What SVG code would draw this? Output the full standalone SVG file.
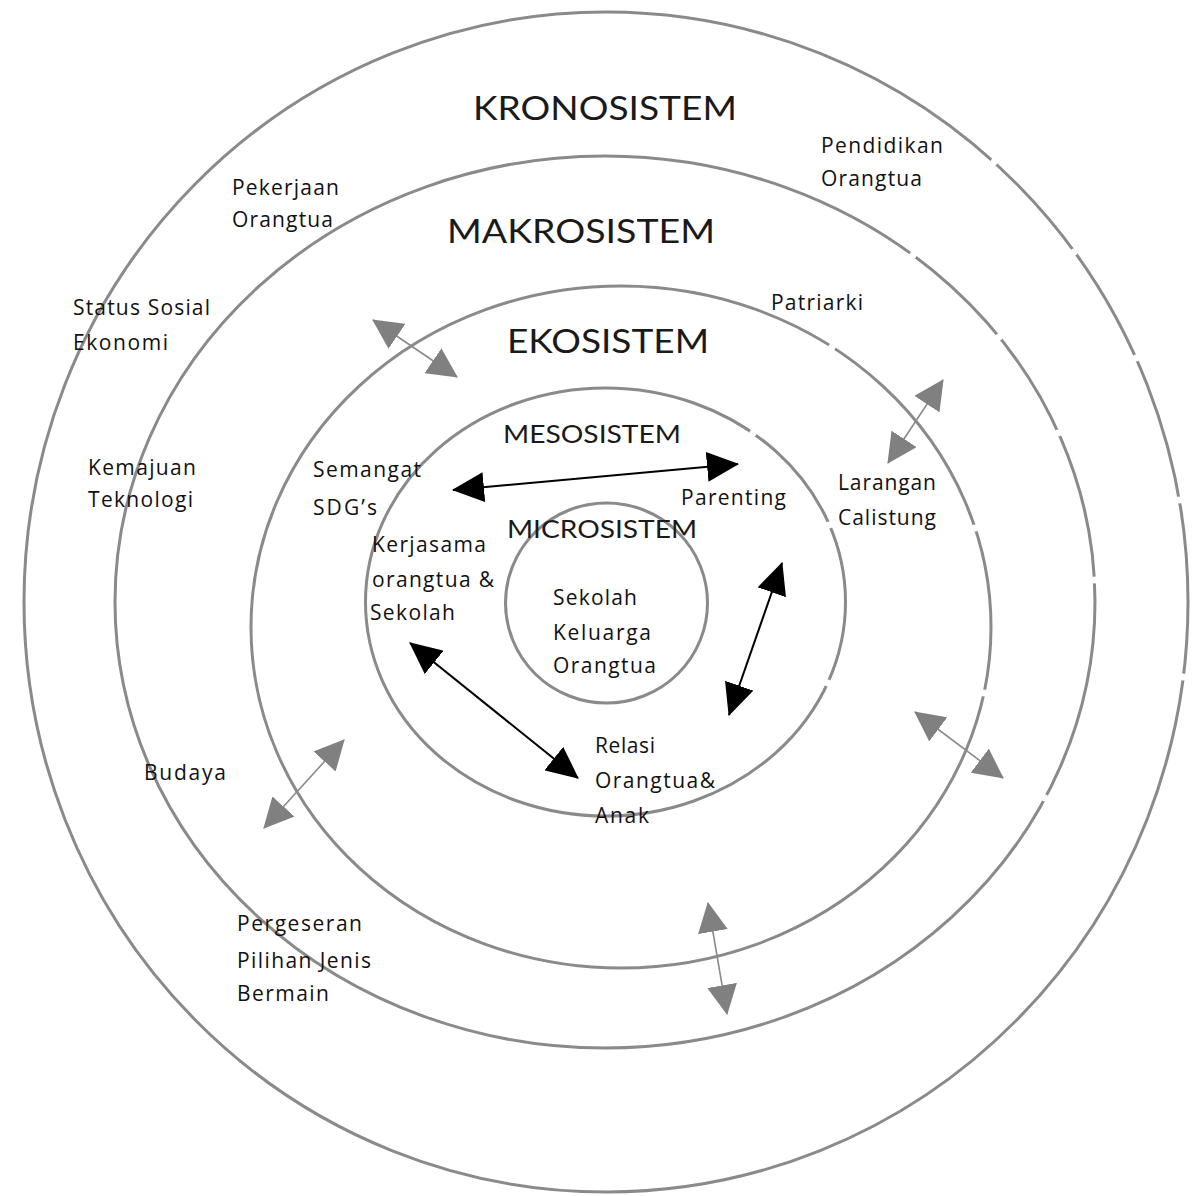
<svg xmlns="http://www.w3.org/2000/svg" width="1195" height="1196" viewBox="0 0 1195 1196">
<style>
.ring{fill:none;stroke:#8a8a8a;stroke-width:3}
.gap{fill:#fff;stroke:none}
.title{font-family:Lato,"Open Sans","Liberation Sans",sans-serif;fill:#1a1a1a}
.big{font-size:33px}
.mid{font-size:25px}
.lbl{font-family:"Open Sans",Lato,"Liberation Sans",sans-serif;font-size:21px;fill:#111}
.blk{stroke:#000;stroke-width:2;fill:none}
.gry{stroke:#8a8a8a;stroke-width:1.6;fill:none}
</style>
<defs>
<marker id="hb" markerUnits="userSpaceOnUse" markerWidth="32" markerHeight="30" refX="31" refY="15" orient="auto-start-reverse"><path d="M0,0 L32,15 L0,30 z" fill="#000"/></marker>
<marker id="hg" markerUnits="userSpaceOnUse" markerWidth="30" markerHeight="30" refX="29" refY="15" orient="auto-start-reverse"><path d="M0,0 L30,15 L0,30 z" fill="#808080"/></marker>
</defs>
<rect width="1195" height="1196" fill="#fff"/>

<g id="kronosistem">
<ellipse class="ring" cx="606" cy="602" rx="582" ry="590"/>
<text class="title big" x="473" y="120" textLength="264" lengthAdjust="spacingAndGlyphs">KRONOSISTEM</text>
</g>
<g id="makrosistem">
<ellipse class="ring" cx="605" cy="602" rx="490" ry="446"/>
<text class="title big" x="447" y="243" textLength="268" lengthAdjust="spacingAndGlyphs">MAKROSISTEM</text>
</g>
<g id="ekosistem">
<ellipse class="ring" cx="621" cy="627" rx="370" ry="341"/>
<text class="title big" x="507" y="353" textLength="202" lengthAdjust="spacingAndGlyphs">EKOSISTEM</text>
</g>
<g id="mesosistem">
<ellipse class="ring" cx="605.5" cy="602" rx="240" ry="214"/>
<text class="title mid" x="503" y="443" textLength="178" lengthAdjust="spacingAndGlyphs">MESOSISTEM</text>
</g>
<g id="microsistem">
<ellipse class="ring" cx="606.5" cy="603" rx="101" ry="100"/>
<text class="title mid" x="507" y="538" textLength="190" lengthAdjust="spacingAndGlyphs">MICROSISTEM</text>
<text class="lbl" x="553" y="605" textLength="84" lengthAdjust="spacing">Sekolah</text>
<text class="lbl" x="553" y="640" textLength="98" lengthAdjust="spacing">Keluarga</text>
<text class="lbl" x="553" y="673" textLength="103" lengthAdjust="spacing">Orangtua</text>
</g>

<g id="gaps">
<circle class="gap" cx="994" cy="162" r="3.5"/>
<circle class="gap" cx="1074" cy="252" r="3.5"/>
<circle class="gap" cx="1136" cy="358" r="3.5"/>
<circle class="gap" cx="1179" cy="500" r="3.5"/>
<circle class="gap" cx="1183" cy="677" r="3.5"/>
<circle class="gap" cx="913" cy="255" r="3.5"/>
<circle class="gap" cx="999" cy="337" r="3.5"/>
<circle class="gap" cx="1058" cy="433" r="3.5"/>
<circle class="gap" cx="1095" cy="580" r="3.5"/>
<circle class="gap" cx="1045" cy="798" r="3.5"/>
<circle class="gap" cx="832" cy="347" r="3.5"/>
<circle class="gap" cx="975" cy="528" r="3.5"/>
<circle class="gap" cx="984" cy="693" r="3.5"/>
<circle class="gap" cx="753" cy="433" r="3.5"/>
<circle class="gap" cx="829" cy="525" r="3.5"/>
<circle class="gap" cx="828" cy="683" r="3.5"/>
</g>

<g id="labels">
<g id="pekerjaan"><text class="lbl" x="232" y="195" textLength="107" lengthAdjust="spacing">Pekerjaan</text><text class="lbl" x="232" y="227" textLength="101" lengthAdjust="spacing">Orangtua</text></g>
<g id="status"><text class="lbl" x="73" y="315" textLength="137" lengthAdjust="spacing">Status Sosial</text><text class="lbl" x="73" y="350" textLength="95" lengthAdjust="spacing">Ekonomi</text></g>
<g id="pendidikan"><text class="lbl" x="821" y="153" textLength="122" lengthAdjust="spacing">Pendidikan</text><text class="lbl" x="821" y="186" textLength="101" lengthAdjust="spacing">Orangtua</text></g>
<g id="patriarki"><text class="lbl" x="771" y="310" textLength="92" lengthAdjust="spacing">Patriarki</text></g>
<g id="kemajuan"><text class="lbl" x="88" y="475" textLength="108" lengthAdjust="spacing">Kemajuan</text><text class="lbl" x="88" y="507" textLength="105" lengthAdjust="spacing">Teknologi</text></g>
<g id="semangat"><text class="lbl" x="313" y="477" textLength="108" lengthAdjust="spacing">Semangat</text><text class="lbl" x="313" y="515" textLength="64" lengthAdjust="spacing">SDG’s</text></g>
<g id="kerjasama"><text class="lbl" x="372" y="552" textLength="114" lengthAdjust="spacing">Kerjasama</text><text class="lbl" x="372" y="587" textLength="122" lengthAdjust="spacing">orangtua &amp;</text><text class="lbl" x="370" y="620" textLength="85" lengthAdjust="spacing">Sekolah</text></g>
<g id="parenting"><text class="lbl" x="681" y="505" textLength="105" lengthAdjust="spacing">Parenting</text></g>
<g id="larangan"><text class="lbl" x="838" y="490" textLength="98" lengthAdjust="spacing">Larangan</text><text class="lbl" x="838" y="525" textLength="98" lengthAdjust="spacing">Calistung</text></g>
<g id="budaya"><text class="lbl" x="144" y="780" textLength="82" lengthAdjust="spacing">Budaya</text></g>
<g id="relasi"><text class="lbl" x="595" y="753" textLength="60" lengthAdjust="spacing">Relasi</text><text class="lbl" x="595" y="788" textLength="120" lengthAdjust="spacing">Orangtua&amp;</text><text class="lbl" x="595" y="823" textLength="54" lengthAdjust="spacing">Anak</text></g>
<g id="pergeseran"><text class="lbl" x="237" y="931" textLength="125" lengthAdjust="spacing">Pergeseran</text><text class="lbl" x="237" y="968" textLength="134" lengthAdjust="spacing">Pilihan Jenis</text><text class="lbl" x="237" y="1001" textLength="92" lengthAdjust="spacing">Bermain</text></g>
</g>

<g id="connectors">
<line class="blk" x1="453" y1="490" x2="738" y2="464" marker-start="url(#hb)" marker-end="url(#hb)"/>
<line class="blk" x1="410" y1="643" x2="578" y2="778" marker-start="url(#hb)" marker-end="url(#hb)"/>
<line class="blk" x1="782" y1="563" x2="729" y2="715" marker-start="url(#hb)" marker-end="url(#hb)"/>
<line class="gry" x1="373" y1="320" x2="457" y2="377" marker-start="url(#hg)" marker-end="url(#hg)"/>
<line class="gry" x1="943" y1="380" x2="888" y2="463" marker-start="url(#hg)" marker-end="url(#hg)"/>
<line class="gry" x1="344" y1="740" x2="264" y2="828" marker-start="url(#hg)" marker-end="url(#hg)"/>
<line class="gry" x1="915" y1="712" x2="1003" y2="778" marker-start="url(#hg)" marker-end="url(#hg)"/>
<line class="gry" x1="708" y1="903" x2="727" y2="1014" marker-start="url(#hg)" marker-end="url(#hg)"/>
</g>
</svg>
